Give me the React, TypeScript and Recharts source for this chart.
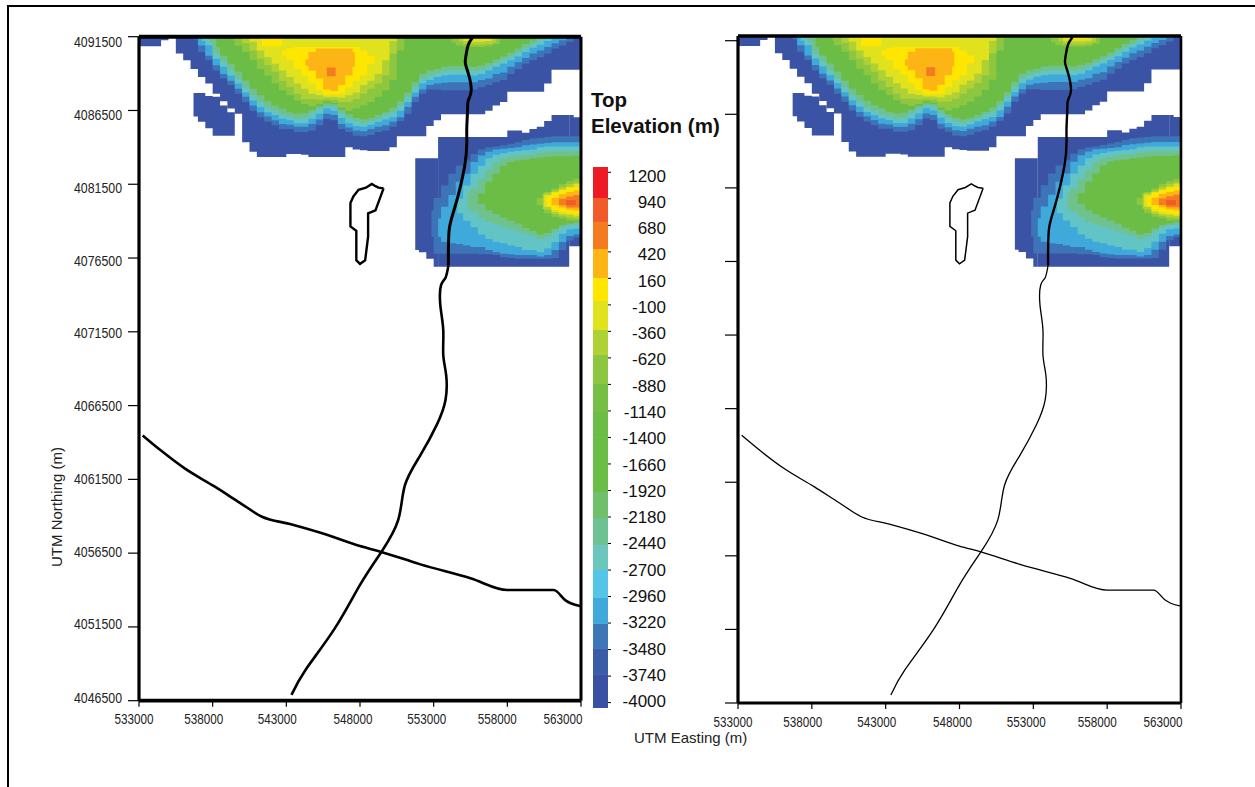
import React from 'react';
import { ComposedChart, Area, Line, XAxis, YAxis, ReferenceLine } from 'recharts';

const FONT = '"Liberation Sans", Arial, sans-serif';

// model grid: cols are 500 m eastings, rows are about 497 m northings
const COL_METRES = 500;
const ROW_METRES = 496.7;
const EAST_BASE = 533000;
const NORTH_BASE = 4046500;
const ROW_TOP = 90.59;

const eastingTicks = [533000, 538000, 543000, 548000, 553000, 558000, 563000];
const northingTicks = [4046500, 4051500, 4056500, 4061500, 4066500, 4071500, 4076500, 4081500, 4086500, 4091500];
const eastingLabelShift = [-5, -9, -9, -7, -7, -10, -18];
const northingLabelShift = [-3, -3, -2, -1, 0, 1, 2, 3, 4, 5];

const legendTicks = [1200, 940, 680, 420, 160, -100, -360, -620, -880, -1140, -1400, -1660, -1920, -2180, -2440, -2700, -2960, -3220, -3480, -3740, -4000];
const legendEdges = [1252, 948, 713, 448, 163, -62, -346, -591, -876, -1141, -1405, -1670, -1935, -2190, -2455, -2700, -2974, -3229, -3474, -3729, -4053];
const legendColors = ['#ED1C24', '#F15A29', '#F47B20', '#FDB515', '#FFE600', '#DFE21D', '#B0D136', '#8DC63F', '#74BF44', '#6CBD45', '#6ABD45', '#6ABD45', '#70BF6A', '#6DC193', '#6DC6BE', '#55C5E7', '#40A9DC', '#3E76B8', '#3B5DA8', '#3A50A2'];

const DEEP = '#3A53A4';
const MID = '#3D74B7';
const BLUE = '#3FA9DC';
const TEAL = '#62C4C4';
const SEA = '#6FC18E';
const GREEN = '#6CBD45';
const LIME = '#8DC63F';
const OLIVE = '#B0D136';
const CITRON = '#DFE21D';
const YELLOW = '#FFE600';
const AMBER = '#FDB515';
const ORANGE = '#F47B20';
const EMBER = '#F15A29';

// north body, lower edge per column (rows)
const cornerLow = [89.3, 89.3, 89.3, 90.1];
const northDeepLow = [88.3, 87.4, 86.2, 85.1, 84.2, 82.8, 81.8, 80.8, 80.1, 76.2, 74.9, 74.2, 74.2, 74.2, 74.2, 74.6, 74.6, 74.5, 74.2, 74.2, 74.2, 74.2, 74.2, 75.5, 75.2, 75.1, 75, 75, 75, 75.5, 77, 77, 77, 77, 78.4, 79.2, 80, 80, 80, 80, 80, 80, 80.5, 81.2, 81.7, 83.1, 83.1, 83.1, 83.1, 83.1, 84.2, 86.1, 86.1, 86.1, 86.1];
const isletLow = [79.7, 79, 78.1, 77.1, 77.1, 77.1];
const isletHigh = [82.9, 82.9, 82.5, 82.4, 81.2, 80.3];
const northMidLow = [90.2, 88.5, 87.4, 86, 84.9, 84, 82.8, 81.7, 80.5, 79.6, 79, 78.5, 78, 78, 77.6, 77.6, 77.8, 78.5, 79.4, 79.2, 78, 77.6, 77.1, 77, 77.2, 77.6, 77.8, 78.3, 79.1, 80.1, 81.7, 82.8, 83.4, 83.4, 83.3, 83.3, 83.3, 83.3, 83.4, 83.7, 84, 84.4, 84.7, 85.5, 86.2, 86.9, 87.4, 87.8, 88.3, 89, 89.4, 89.9, 90.5];
const northBlueLow = [89.4, 88, 86.7, 85.5, 84.6, 83.5, 82.4, 81.2, 80.3, 79.7, 79.2, 78.7, 78.6, 78.3, 78.3, 78.7, 79.3, 80.1, 79.9, 78.7, 78.2, 77.8, 77.7, 78, 78.3, 78.5, 79, 79.6, 81, 82.4, 83.4, 84, 84.2, 84.3, 84.4, 84.4, 84.4, 84.4, 84.7, 84.9, 85.5, 85.7, 86.5, 87.1, 87.7, 88.3, 88.7, 89.2, 89.7, 90.1, 90.5];
const northTealLow = [90, 89.4, 87.6, 86.5, 85.3, 84.2, 83, 81.9, 81, 80.3, 79.9, 79.4, 79.2, 78.8, 78.8, 79.4, 80.1, 80.8, 80.5, 79.5, 78.8, 78.4, 78.3, 78.6, 79, 79.3, 79.6, 80.5, 81.7, 83, 84.2, 84.7, 85.1, 85.3, 85.4, 85.4, 85.4, 85.3, 85.5, 86, 86.5, 86.9, 87.4, 87.9, 88.5, 89.1, 89.5, 90, 90.4];
const northSeaLow = [89.8, 88.3, 87.2, 86, 84.9, 83.7, 82.6, 81.7, 80.9, 80.5, 80, 79.7, 79.4, 79.5, 80.2, 80.8, 81.2, 81.1, 80.2, 79.5, 79.1, 78.8, 79.1, 79.4, 80, 80.3, 81.2, 82.4, 83.7, 84.9, 85.3, 85.6, 85.9, 86, 86, 86, 85.9, 86.1, 86.5, 87, 87.5, 87.9, 88.5, 89.1, 89.6, 90.1, 90.5];
const northGreenLow = [89.2, 88, 86.9, 85.8, 84.6, 83.5, 82.6, 81.8, 81.2, 80.8, 80.3, 80.1, 80.2, 80.6, 81.1, 81.5, 81.4, 80.6, 80, 79.5, 79.3, 79.5, 79.9, 80.3, 80.9, 81.8, 83, 84.4, 85.5, 86, 86.2, 86.5, 86.6, 86.6, 86.6, 86.5, 86.7, 87, 87.5, 87.9, 88.4, 89, 89.6, 90.1, 90.5];
const northLimeLow = [90, 89.4, 88.5, 87.4, 86.2, 85.3, 84.2, 83.3, 82.6, 81.9, 81.4, 81.1, 81.4, 81.8, 81.6, 80.9, 80.5, 80.8, 81.2, 81.7, 82.4, 83.3, 84.7, 88.7];
const northOliveLow = [89.7, 88.7, 87.6, 86.7, 85.8, 84.6, 83.7, 82.8, 82.1, 82.1, 82, 82.1, 82, 81.7, 81.7, 82.1, 82.8, 83.5, 84.2, 85.3, 88.3];
const northCitronLow = [89.9, 88.7, 87.8, 86.9, 86, 85.1, 84.2, 83.5, 82.8, 82.6, 82.4, 82.4, 82.3, 82.6, 83, 84, 84.6, 85.5, 87.4, 90];
const capYellowLow = [89.3, 89.3, 89.3];
const peakYellowLow = [88, 87.4, 86.2, 85.3, 84.2, 83.3, 82.7, 82.7, 82.8, 83.7, 84.6, 85.3, 86.9];
const peakYellowHigh = [88.7, 89, 89.2, 89.2, 89.2, 89.2, 89.2, 89.2, 89.2, 89.2, 89.2, 88.7, 88];
const peakAmberLow = [86.6, 86, 84.9, 83.4, 83.2, 84, 85.3, 86.5];
const peakAmberHigh = [87.5, 88.5, 89, 89, 89, 89, 89, 88.5];
const peakOrangeLow = [85.2, 85.2];
const peakOrangeHigh = [86.4, 86.4];
const rimLimeLow = [89.8, 89.4, 89.3, 89.2, 89.2, 89.3, 89.6];
const rimOliveLow = [89.9, 89.6, 89.5, 89.5, 89.6, 89.8];
const rimCitronLow = [90, 89.9, 89.9, 90];
const rimYellowLow = [90.3, 90.3, 90.3];

// south body, lower and upper edge per column (rows)
const southWestLow = [61.5, 61.2, 60.3, 59.2];
const southWestHigh = [74, 74, 74, 74];
const southDeepLow = [59.2, 59.2, 59.2, 59.2, 59.2, 59.2, 59.2, 59.2, 59.2, 59.2, 59.2, 59.2, 59.2, 59.2, 59.2, 59.2, 59.2, 59.2, 59.2];
const southDeepHigh = [76.9, 76.9, 76.9, 76.9, 76.9, 76.9, 76.9, 76.9, 76.9, 76.9, 77.8, 77.8, 77.5, 78, 78.3, 79.1, 79.9, 79.9, 79.9];
const southEastLow = [62, 62];
const southEastHigh = [79.9, 79.6];
const southMidLow = [63.3, 61, 61, 61, 61, 61, 61, 60.9, 60.9, 60.8, 60.5, 60.4, 60.3, 60.3, 60.3, 60.3, 60.3, 60.4, 61.5, 62.8, 63.2];
const southMidHigh = [66.9, 68.6, 70.3, 71.9, 73, 73.7, 74.6, 75.2, 75.5, 75.6, 75.8, 76, 76.2, 76.5, 76.7, 76.8, 76.9, 77, 77, 77, 77];
const southBlueLow = [63.3, 62.6, 62.4, 62.3, 62.1, 61.9, 61.9, 61.5, 61.2, 61, 60.9, 60.8, 60.8, 60.8, 60.6, 60.8, 61.5, 62.6, 63.4, 63.6];
const southBlueHigh = [65.8, 67.4, 69, 70.8, 71.9, 73.5, 74.4, 74.9, 75.2, 75.3, 75.4, 75.5, 75.8, 75.9, 76, 76.1, 76.2, 76.2, 76.2, 76.2];
const southTealLow = [66.5, 65.5, 64.6, 63.6, 63, 62.6, 62.4, 62.1, 61.9, 61.5, 61.5, 61.2, 61.7, 62.6, 63.7, 64.3, 64.4];
const southTealHigh = [68.5, 70.3, 71.9, 73, 74, 74.5, 74.7, 74.9, 75, 75.1, 75.2, 75.5, 75.6, 75.6, 75.6, 75.6, 75.6];
const southSeaLow = [67.1, 66.7, 65.9, 65.3, 65, 64.6, 64.4, 64, 63.7, 63.4, 63, 63.3, 64, 64.6, 64.9, 65];
const southSeaHigh = [69.2, 69.9, 71.2, 72.4, 73.5, 74, 74.2, 74.4, 74.5, 74.5, 74.8, 74.9, 75, 75, 75, 75];
const southGreenLow = [67.8, 66.9, 66.4, 65.9, 65.5, 65.1, 64.5, 64.1, 63.6, 63.8, 64.4, 64.9, 65.1, 65.3];
const southGreenHigh = [69.2, 70.8, 71.9, 73, 73.5, 73.7, 73.8, 74, 74.1, 74.2, 74.3, 74.3, 74.3, 74.4];
const hotLimeLow = [67.6, 66.5, 66, 65.8, 65.5, 65.5];
const hotLimeHigh = [68.6, 69.4, 69.9, 70.5, 70.9, 71.2];
const hotOliveLow = [67.1, 67, 66.4, 66.1, 65.9, 65.8];
const hotOliveHigh = [69.2, 69.3, 69.6, 70.1, 70.5, 70.7];
const hotCitronLow = [67.4, 66.7, 66.4, 66.3, 66.1];
const hotCitronHigh = [69, 69.4, 69.7, 70.1, 70.5];
const hotYellowLow = [67.4, 67, 66.7, 66.5, 66.4];
const hotYellowHigh = [68.8, 69.3, 69.7, 70, 70.1];
const hotAmberLow = [67.6, 67.3, 67, 66.9];
const hotAmberHigh = [68.6, 69.1, 69.4, 69.6];
const hotOrangeLow = [67.6, 67.3, 67.3];
const hotOrangeHigh = [68.5, 68.8, 69];
const hotEmberLow = [67.6, 67.6];
const hotEmberHigh = [68.3, 68.3];

// traverses as [col, row]
const northSouthUpper = [[45.3, 90.5], [44.7, 89.5], [44.4, 88.1], [44.3, 87], [44.7, 85.6], [45.1, 83.3], [44.7, 81.9], [44.6, 80.6], [44.5, 78.3], [44.5, 76.3], [44.2, 72.9], [42.9, 67.4], [42.1, 64.2], [42, 59.4]];
const northSouthLower = [[42, 59.4], [41.6, 57.7], [41, 56.7], [40.9, 54], [41.3, 50.6], [41.3, 47.2], [41.7, 44.4], [41.6, 41], [40.4, 37.6], [38.2, 33.5], [36.1, 29.4], [35.2, 24.7], [32.9, 20.3], [30, 15.8], [26.6, 9.9], [22.6, 4.2], [20.7, 0.8]];
const eastWest = [[0.5, 36.2], [2.9, 34.2], [6.2, 31.7], [10.3, 29.2], [13.7, 27], [16.7, 25.1], [20.5, 24.1], [25.3, 22.7], [30, 21.1], [32.9, 20.3], [38.2, 18.6], [45, 16.7], [50, 15.1], [56.3, 15.1], [57.9, 13.7], [58.6, 13.3], [60, 12.9]];
const outline = [[33.2, 69.9], [32.5, 70], [32.1, 70.2], [31.6, 70.5], [30.8, 70], [29.8, 69.7], [29.1, 68.8], [28.7, 67.9], [28.7, 64.7], [29.5, 64.1], [29.5, 60.1], [30, 59.6], [30.7, 60.1], [31.1, 63.3], [31.1, 66.5], [32.1, 66.9], [33.2, 69.9]];

const toE = (col: number) => EAST_BASE + COL_METRES * col;
const toN = (row: number) => NORTH_BASE + ROW_METRES * row;

// one painted band: stepped range per column, last column held to `end`
const band = (color: string, start: number, lows: number[], highs?: number[], end?: number) => {
  const cols = lows.map((_, i) => (i === 0 ? start : Math.floor(start) + i));
  const data = cols.map((c, i) => ({ e: toE(c), range: [toN(lows[i]), toN(highs ? highs[i] : ROW_TOP)] }));
  const last = lows.length - 1;
  data.push({ e: toE(end ?? Math.floor(start) + lows.length), range: [toN(lows[last]), toN(highs ? highs[last] : ROW_TOP)] });
  return { color, data };
};

const bands = [
  band(DEEP, 0, cornerLow),
  band(DEEP, 5, northDeepLow, undefined, 60),
  band(DEEP, 7.4, isletLow, isletHigh),
  band(MID, 7.4, northMidLow, undefined, 60),
  band(BLUE, 8, northBlueLow),
  band(TEAL, 8.5, northTealLow),
  band(SEA, 9.5, northSeaLow),
  band(GREEN, 10.5, northGreenLow),
  band(LIME, 12.8, northLimeLow),
  band(OLIVE, 14, northOliveLow),
  band(CITRON, 15, northCitronLow),
  band(YELLOW, 16.7, capYellowLow, undefined, 19.4),
  band(YELLOW, 19.4, peakYellowLow, peakYellowHigh),
  band(AMBER, 22.6, peakAmberLow, peakAmberHigh, 29.3),
  band(ORANGE, 25.5, peakOrangeLow, peakOrangeHigh, 26.7),
  band(LIME, 42.4, rimLimeLow),
  band(OLIVE, 43.4, rimOliveLow, undefined, 48.5),
  band(CITRON, 44, rimCitronLow, undefined, 47.9),
  band(YELLOW, 45.4, rimYellowLow, undefined, 47.2),
  band(DEEP, 37.5, southWestLow, southWestHigh, 40.6),
  band(DEEP, 40.6, southDeepLow, southDeepHigh, 58.4),
  band(DEEP, 58.4, southEastLow, southEastHigh, 60),
  band(MID, 39.7, southMidLow, southMidHigh, 60),
  band(BLUE, 40.6, southBlueLow, southBlueHigh, 60),
  band(TEAL, 43.2, southTealLow, southTealHigh, 60),
  band(SEA, 44.6, southSeaLow, southSeaHigh, 60),
  band(GREEN, 46, southGreenLow, southGreenHigh, 60),
  band(LIME, 54, hotLimeLow, hotLimeHigh, 60),
  band(OLIVE, 54.8, hotOliveLow, hotOliveHigh, 60),
  band(CITRON, 55, hotCitronLow, hotCitronHigh, 60),
  band(YELLOW, 55.4, hotYellowLow, hotYellowHigh, 60),
  band(AMBER, 56, hotAmberLow, hotAmberHigh, 60),
  band(ORANGE, 57, hotOrangeLow, hotOrangeHigh, 60),
  band(EMBER, 58, hotEmberLow, hotEmberHigh, 59.3),
];

const toLine = (pts: number[][]) => pts.map(([c, r]) => ({ e: toE(c), n: toN(r) }));

// the tick axis needs a series of its own before it lays out its ticks
const tickCarrier = northingTicks.map(n => ({ e: EAST_BASE, n }));

const legendBands = legendColors.map((color, i) => ({
  color,
  data: [
    { x: 0, range: [legendEdges[i + 1], legendEdges[i]] },
    { x: 1, range: [legendEdges[i + 1], legendEdges[i]] },
  ],
}));

const EastTick = ({ x, y, index, payload }: any) => (
  <text
    x={x + eastingLabelShift[index]}
    y={y + 10}
    textAnchor="middle"
    dominantBaseline="central"
    textLength={39}
    lengthAdjust="spacingAndGlyphs"
    fontFamily={FONT}
    fontSize={15}
    fill="#222"
  >
    {payload.value}
  </text>
);

const NorthTick = ({ y, index, payload }: any) => (
  <text
    x={122}
    y={y + northingLabelShift[index]}
    textAnchor="end"
    dominantBaseline="central"
    textLength={48}
    lengthAdjust="spacingAndGlyphs"
    fontFamily={FONT}
    fontSize={15}
    fill="#222"
  >
    {payload.value}
  </text>
);

const LegendTick = ({ y, index, payload }: any) => (
  <text
    x={81}
    y={y + 3.7 - index * 0.23}
    textAnchor="end"
    dominantBaseline="central"
    fontFamily={FONT}
    fontSize={17}
    fill="#111"
  >
    {payload.value}
  </text>
);

type PanelProps = {
  left: number;
  margin: { top: number; right: number; bottom: number; left: number };
  axisWidth: number;
  northTop: number;
  marksDomain: number[];
  labelled: boolean;
  tickLength: number;
  frame: { left: number; bottom: number; top: number; right: number };
  upperWidth: number;
  lowerWidth: number;
  outlineWidth: number;
};

const Panel = (p: PanelProps) => (
  <div style={{ position: 'absolute', left: p.left, top: 0 }}>
    <ComposedChart width={600} height={760} margin={p.margin}>
      <XAxis
        type="number"
        dataKey="e"
        domain={[533000, 563000]}
        ticks={eastingTicks}
        interval={0}
        height={40}
        tickSize={6}
        tick={<EastTick />}
        axisLine={{ stroke: '#000', strokeWidth: p.frame.bottom }}
        tickLine={{ stroke: '#000', strokeWidth: 1.2 }}
      />
      <YAxis
        type="number"
        domain={[4046500, p.northTop]}
        ticks={northingTicks}
        interval={0}
        width={p.axisWidth}
        tickSize={p.tickLength}
        tick={p.labelled ? <NorthTick /> : () => <g />}
        axisLine={{ stroke: '#000', strokeWidth: p.frame.left }}
        tickLine={{ stroke: '#000', strokeWidth: 1.2 }}
      />
      <YAxis yAxisId="marks" type="number" hide domain={p.marksDomain} />
      {bands.map((b, i) => (
        <Area
          key={i}
          yAxisId="marks"
          data={b.data}
          dataKey="range"
          type="stepAfter"
          fill={b.color}
          fillOpacity={1}
          stroke="none"
          dot={false}
          activeDot={false}
          isAnimationActive={false}
        />
      ))}
      <Line data={tickCarrier} dataKey="n" stroke="none" dot={false} activeDot={false} isAnimationActive={false} />
      <Line yAxisId="marks" type="natural" data={toLine(northSouthUpper)} dataKey="n" stroke="#000" strokeWidth={p.upperWidth} dot={false} activeDot={false} isAnimationActive={false} />
      <Line yAxisId="marks" type="natural" data={toLine(northSouthLower)} dataKey="n" stroke="#000" strokeWidth={p.lowerWidth} dot={false} activeDot={false} isAnimationActive={false} />
      <Line yAxisId="marks" type="monotoneX" data={toLine(eastWest)} dataKey="n" stroke="#000" strokeWidth={p.lowerWidth} dot={false} activeDot={false} isAnimationActive={false} />
      <Line yAxisId="marks" data={toLine(outline)} dataKey="n" stroke="#000" strokeWidth={p.outlineWidth} dot={false} activeDot={false} isAnimationActive={false} />
      <ReferenceLine y={p.northTop} stroke="#000" strokeWidth={p.frame.top} />
      <ReferenceLine x={563000} stroke="#000" strokeWidth={p.frame.right} />
    </ComposedChart>
  </div>
);

const LegendBar = () => (
  <div style={{ position: 'absolute', left: 585, top: 150 }}>
    <ComposedChart width={93} height={575} margin={{ top: 17, right: 0, bottom: 17, left: 8 }}>
      <XAxis type="number" dataKey="x" hide domain={[0, 1]} />
      <YAxis
        type="number"
        orientation="right"
        domain={[-4053, 1252]}
        ticks={legendTicks}
        interval={0}
        width={70}
        tickSize={3}
        tick={<LegendTick />}
        axisLine={false}
        tickLine={{ stroke: '#000', strokeWidth: 1 }}
      />
      {legendBands.map((b, i) => (
        <Area key={i} data={b.data} dataKey="range" type="linear" fill={b.color} fillOpacity={1} stroke="none" dot={false} activeDot={false} isAnimationActive={false} />
      ))}
    </ComposedChart>
  </div>
);

const textStyle: React.CSSProperties = { position: 'absolute', fontFamily: FONT, whiteSpace: 'nowrap', color: '#222' };

export default function App() {
  return (
    <div style={{ position: 'absolute', left: 0, top: 0, width: 1255, height: 787, overflow: 'hidden', background: '#fff' }}>
      <div style={{ position: 'absolute', left: 7, top: 5, width: 1248, height: 782, borderLeft: '2.5px solid #000', borderTop: '2.5px solid #000' }} />
      <Panel
        left={0}
        margin={{ top: 36.7, right: 19, bottom: 19.3, left: 39 }}
        axisWidth={100}
        northTop={4091500}
        marksDomain={[4046500, 4091500]}
        labelled
        tickLength={11}
        frame={{ left: 3.2, bottom: 3.8, top: 4, right: 3 }}
        upperWidth={3}
        lowerWidth={2.6}
        outlineWidth={2.4}
      />
      <Panel
        left={640}
        margin={{ top: 36, right: 59, bottom: 17, left: 38 }}
        axisWidth={60}
        northTop={4091820}
        marksDomain={[4046350, 4091531]}
        labelled={false}
        tickLength={13}
        frame={{ left: 3.2, bottom: 3, top: 3.5, right: 2.6 }}
        upperWidth={2.4}
        lowerWidth={1.3}
        outlineWidth={1.5}
      />
      <LegendBar />
      <div style={{ ...textStyle, left: 591, top: 87, fontSize: 20.5, lineHeight: '26px', fontWeight: 700, color: '#111' }}>
        Top<br />Elevation (m)
      </div>
      <div style={{ ...textStyle, left: 634, top: 729, fontSize: 15, lineHeight: '18px' }}>UTM Easting (m)</div>
      <div style={{ ...textStyle, left: 57, top: 507, fontSize: 15, lineHeight: '18px', transform: 'translate(-50%, -50%) rotate(-90deg)' }}>UTM Northing (m)</div>
    </div>
  );
}
